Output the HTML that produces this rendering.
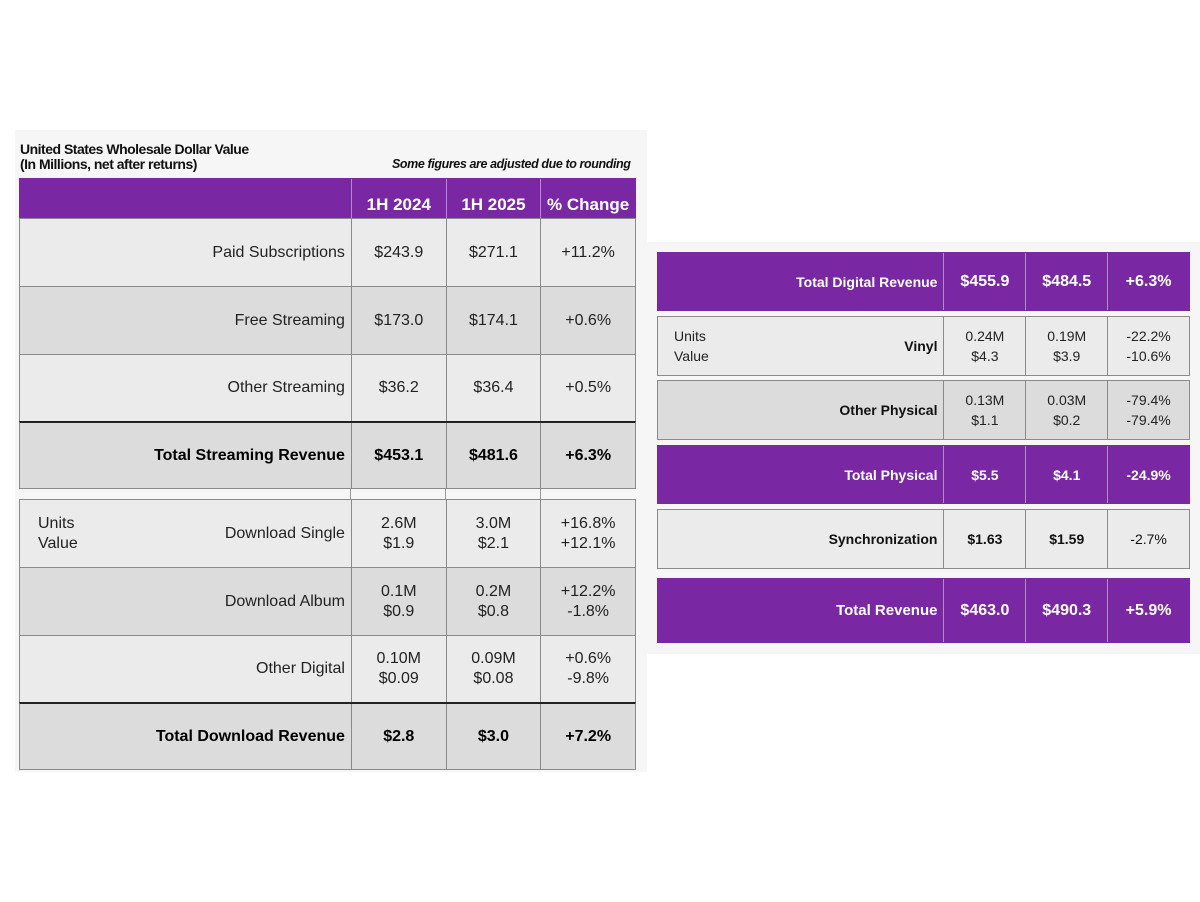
<!DOCTYPE html>
<html><head><style>
body{margin:0;width:1200px;height:902px;background:#fff;position:relative;overflow:hidden;font-family:"Liberation Sans",sans-serif;}
.bg{position:absolute;background:#f6f6f6;}
.row{position:absolute;display:flex;box-sizing:border-box;border:1px solid #8a8a8a;}
.row div{box-sizing:border-box;display:flex;align-items:center;justify-content:center;text-align:center;border-left:1px solid #8a8a8a;font-size:16px;color:#222;line-height:20px;}
.row div:first-child{border-left:none;justify-content:flex-end;padding-right:6px;position:relative;}
.l{background:#ebebeb}.d{background:#dcdcdc}
.p{background:#7a27a3;border-color:#7a27a3}
.p div{color:#fff;font-weight:bold;border-left-color:#b28bc8}
.b div{font-weight:bold;font-size:16px;color:#000}
.uv{position:absolute;left:18px;top:50%;transform:translateY(-50%);text-align:left;justify-content:flex-start!important;border:none!important;color:#222;font-weight:normal;}
</style></head><body>
<div class="bg" style="left:15px;top:130px;width:632px;height:642px"></div>
<div class="bg" style="left:647px;top:242px;width:553px;height:412px"></div>
<div style="position:absolute;left:20px;top:142px;font-size:14px;font-weight:bold;line-height:15px;color:#111;letter-spacing:-0.5px">United States Wholesale Dollar Value<br>(In Millions, net after returns)</div>
<div style="position:absolute;left:392px;top:157px;font-size:12.5px;font-weight:bold;font-style:italic;color:#111;letter-spacing:-0.4px">Some figures are adjusted due to rounding</div>

<div class="row p" style="left:19px;top:178px;width:617px;height:41px">
<div style="width:332px"></div><div style="width:95px;align-items:flex-end;padding-bottom:3px;font-size:17px">1H 2024</div><div style="width:95px;align-items:flex-end;padding-bottom:3px;font-size:17px">1H 2025</div><div style="width:95px;align-items:flex-end;padding-bottom:3px;font-size:17px">% Change</div></div>

<div class="row l" style="left:19px;top:218px;width:617px;height:69px"><div style="width:332px">Paid Subscriptions</div><div style="width:95px">$243.9</div><div style="width:95px">$271.1</div><div style="width:95px">+11.2%</div></div>
<div class="row d" style="left:19px;top:286px;width:617px;height:69px"><div style="width:332px">Free Streaming</div><div style="width:95px">$173.0</div><div style="width:95px">$174.1</div><div style="width:95px">+0.6%</div></div>
<div class="row l" style="left:19px;top:354px;width:617px;height:68px"><div style="width:332px">Other Streaming</div><div style="width:95px">$36.2</div><div style="width:95px">$36.4</div><div style="width:95px">+0.5%</div></div>
<div class="row d b" style="left:19px;top:421px;width:617px;height:68px;border-top:2px solid #222"><div style="width:332px">Total Streaming Revenue</div><div style="width:95px">$453.1</div><div style="width:95px">$481.6</div><div style="width:95px">+6.3%</div></div>
<div style="position:absolute;left:350px;top:489px;width:1px;height:10px;background:#999"></div>
<div style="position:absolute;left:445px;top:489px;width:1px;height:10px;background:#999"></div>
<div style="position:absolute;left:540px;top:489px;width:1px;height:10px;background:#999"></div>

<div class="row l" style="left:19px;top:499px;width:617px;height:69px"><div style="width:332px"><span class="uv">Units<br>Value</span>Download Single</div><div style="width:95px">2.6M<br>$1.9</div><div style="width:95px">3.0M<br>$2.1</div><div style="width:95px">+16.8%<br>+12.1%</div></div>
<div class="row d" style="left:19px;top:567px;width:617px;height:69px"><div style="width:332px">Download Album</div><div style="width:95px">0.1M<br>$0.9</div><div style="width:95px">0.2M<br>$0.8</div><div style="width:95px">+12.2%<br>-1.8%</div></div>
<div class="row l" style="left:19px;top:635px;width:617px;height:68px"><div style="width:332px">Other Digital</div><div style="width:95px">0.10M<br>$0.09</div><div style="width:95px">0.09M<br>$0.08</div><div style="width:95px">+0.6%<br>-9.8%</div></div>
<div class="row d b" style="left:19px;top:702px;width:617px;height:68px;border-top:2px solid #222"><div style="width:332px">Total Download Revenue</div><div style="width:95px">$2.8</div><div style="width:95px">$3.0</div><div style="width:95px">+7.2%</div></div>

<div class="row p" style="left:657px;top:252px;width:533px;height:59px"><div style="width:286px;font-size:14px">Total Digital Revenue</div><div style="width:82px">$455.9</div><div style="width:82px">$484.5</div><div style="width:82px">+6.3%</div></div>
<div class="row l" style="left:657px;top:316px;width:533px;height:60px"><div style="width:286px;font-size:14px;font-weight:bold;color:#111"><span class="uv" style="left:16px;font-size:14px">Units<br>Value</span>Vinyl</div><div style="width:82px;font-size:14px">0.24M<br>$4.3</div><div style="width:82px;font-size:14px">0.19M<br>$3.9</div><div style="width:82px;font-size:14px">-22.2%<br>-10.6%</div></div>
<div class="row d" style="left:657px;top:380px;width:533px;height:60px"><div style="width:286px;font-size:14px;font-weight:bold;color:#111">Other Physical</div><div style="width:82px;font-size:14px">0.13M<br>$1.1</div><div style="width:82px;font-size:14px">0.03M<br>$0.2</div><div style="width:82px;font-size:14px">-79.4%<br>-79.4%</div></div>
<div class="row p" style="left:657px;top:445px;width:533px;height:59px"><div style="width:286px;font-size:14px">Total Physical</div><div style="width:82px;font-size:14px">$5.5</div><div style="width:82px;font-size:14px">$4.1</div><div style="width:82px;font-size:14px">-24.9%</div></div>
<div class="row l" style="left:657px;top:509px;width:533px;height:60px"><div style="width:286px;font-size:14px;font-weight:bold;color:#111">Synchronization</div><div style="width:82px;font-size:14px;font-weight:bold;color:#111">$1.63</div><div style="width:82px;font-size:14px;font-weight:bold;color:#111">$1.59</div><div style="width:82px;font-size:14px;color:#111">-2.7%</div></div>
<div class="row p" style="left:657px;top:578px;width:533px;height:65px"><div style="width:286px;font-size:15px">Total Revenue</div><div style="width:82px">$463.0</div><div style="width:82px">$490.3</div><div style="width:82px">+5.9%</div></div>
</body></html>
